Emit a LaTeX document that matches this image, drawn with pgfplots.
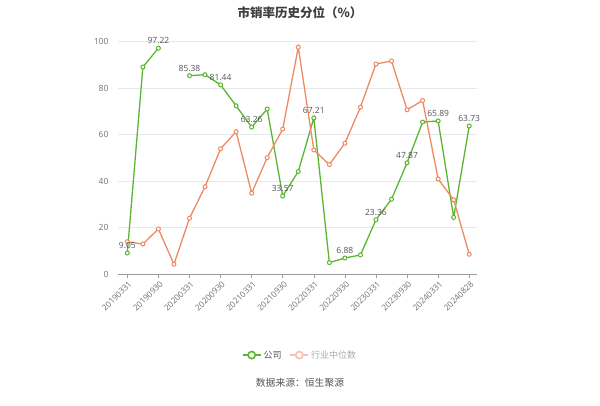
\documentclass[border=0pt]{standalone}
\usepackage{pgfplots}
\pgfplotsset{compat=1.18}
\usepackage{fontspec}
\setmainfont{Open Sans}
\newfontfamily\cjk{Noto Sans CJK SC}
\definecolor{cgreen}{HTML}{5CB531}
\definecolor{corange}{HTML}{EE8A63}
\definecolor{corangelt}{HTML}{F6C2AD}
\definecolor{tickgray}{HTML}{6E7079}
\definecolor{gridgray}{HTML}{E6E8EC}
\definecolor{labgray}{HTML}{555555}
\begin{document}
\begin{tikzpicture}[x=1pt,y=1pt]
\useasboundingbox (0,0) rectangle (600,405);
\begin{axis}[
  at={(118pt,131pt)}, anchor=south west,
  scale only axis, width=359pt, height=232.3pt,
  xmin=-0.6, xmax=22.5, ymin=0, ymax=100,
  axis y line*=left, axis x line*=bottom,
  y axis line style={draw=none},
  x axis line style={draw=tickgray!70, line width=0.8pt},
  ytick={0,20,40,60,80,100},
  ymajorgrids, grid style={gridgray, line width=0.6pt},
  major y tick style={draw=none},
  xtick={0,2,4,6,8,10,12,14,16,18,20,22},
  xticklabels={20190331,20190930,20200331,20200930,20210331,20210930,20220331,20220930,20230331,20230930,20240331,20240828},
  x tick label style={rotate=45, anchor=north east, font=\fontsize{8.3}{9}\selectfont, text=tickgray, inner sep=1pt, yshift=-1pt},
  y tick label style={font=\fontsize{8.5}{9}\selectfont, text=tickgray, xshift=-2pt},
  major x tick style={draw=tickgray!70, line width=0.6pt},
  tick align=outside, major tick length=4pt,
  /pgf/number format/assume math mode=true,
  unbounded coords=jump,
  clip=false,
  legend style={at={(0.507,-0.349)}, anchor=center, draw=none, fill=none,
    legend columns=2, font=\cjk\fontsize{9}{10}\selectfont,
    /tikz/every even column/.append style={column sep=6pt}},
  legend image code/.code={
    \draw[#1, mark=none, line width=1.6pt] (0pt,0pt) -- (18pt,0pt);
    \draw[#1, mark=none, line width=1.6pt, fill=white] (9pt,0pt) circle (3.6pt);
  },
  legend cell align=left,
]
\addplot[cgreen, line width=1.3pt, mark=*, mark size=2pt, mark options={fill=white, line width=1pt}]
coordinates {
(0,9.05) (1,89.1) (2,97.22) (3,nan) (4,85.38) (5,85.8) (6,81.44) (7,72.4)
(8,63.26) (9,71.0) (10,33.57) (11,44.1) (12,67.21) (13,4.9) (14,6.88) (15,8.2)
(16,23.36) (17,32.2) (18,47.87) (19,65.4) (20,65.89) (21,24.4) (22,63.73)
};
\addlegendentry{\textcolor{labgray}{公司}}
\addplot[corange, line width=1.3pt, mark=*, mark size=2pt, mark options={fill=white, line width=1pt}, legend image post style={corangelt}]
coordinates {
(0,13.9) (1,12.9) (2,19.4) (3,4.2) (4,24.0) (5,37.6) (6,53.9) (7,61.3)
(8,34.8) (9,50.1) (10,62.4) (11,97.6) (12,53.4) (13,47.1) (14,56.3) (15,71.8)
(16,90.4) (17,91.7) (18,70.7) (19,74.7) (20,40.9) (21,31.9) (22,8.5)
};
\addlegendentry{\textcolor{tickgray!60}{行业中位数}}
\addplot[draw=none, mark=none, forget plot,
  nodes near coords, point meta=y,
  nodes near coords style={font=\fontsize{8.5}{9}\selectfont, text=labgray, anchor=south, yshift=1pt,
    /pgf/number format/.cd, fixed, fixed zerofill, precision=2, assume math mode=true}]
coordinates {
(0,9.05) (2,97.22) (4,85.38) (6,81.44) (8,63.26) (10,33.57) (12,67.21) (14,6.88)
(16,23.36) (18,47.87) (20,65.89) (22,63.73)
};
\end{axis}
\node[font=\cjk\bfseries\fontsize{12.5}{14}\selectfont, text=black!75] at (300,392) {市销率历史分位（\%）};
\node[font=\cjk\fontsize{9.8}{11}\selectfont, text=labgray] at (300,22) {数据来源：恒生聚源};
\end{tikzpicture}
\end{document}
